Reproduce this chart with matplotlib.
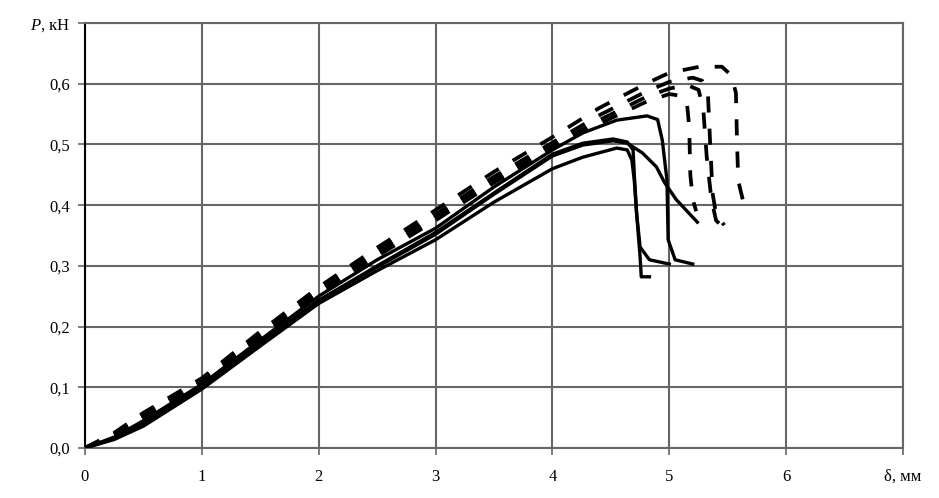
import matplotlib
matplotlib.use("Agg")
import matplotlib.pyplot as plt

plt.rcParams["font.family"] = ["Liberation Serif", "DejaVu Serif"]
plt.rcParams["mathtext.fontset"] = "custom"
plt.rcParams["mathtext.it"] = "Liberation Serif:italic"
plt.rcParams["mathtext.rm"] = "Liberation Serif"

# прогиб δ, мм / нагрузка P, кН — сплошные кривые
rise_x = [0, 0.25, 0.5, 1, 1.5, 2, 2.5, 3, 3.5, 4]

a_x = rise_x + [4.26, 4.55, 4.81, 4.9, 4.94, 4.98, 4.99, 5.05, 5.2]
a_y = [0, 0.018, 0.045, 0.105, 0.178, 0.25, 0.31, 0.362, 0.43, 0.491,
       0.519, 0.54, 0.547, 0.541, 0.507, 0.441, 0.343, 0.31, 0.303]

b_x = rise_x + [4.26, 4.55, 4.64, 4.68, 4.70, 4.72, 4.75, 4.76, 4.83]
b_y = [0, 0.014, 0.036, 0.097, 0.168, 0.238, 0.292, 0.343, 0.405, 0.46,
       0.479, 0.494, 0.491, 0.474, 0.441, 0.387, 0.315, 0.282, 0.282]

c_x = rise_x + [4.26, 4.52, 4.64, 4.69, 4.70, 4.72, 4.75, 4.83, 5.0]
c_y = [0, 0.016, 0.04, 0.1, 0.172, 0.243, 0.3, 0.355, 0.42, 0.484,
       0.502, 0.509, 0.504, 0.491, 0.453, 0.387, 0.331, 0.31, 0.303]

d_x = rise_x + [4.26, 4.52, 4.64, 4.77, 4.89, 4.96, 5.06, 5.24]
d_y = [0, 0.016, 0.04, 0.1, 0.172, 0.243, 0.298, 0.352, 0.418, 0.481,
       0.499, 0.506, 0.502, 0.486, 0.463, 0.437, 0.409, 0.372]

# штриховые кривые
e_x = rise_x + [4.4, 4.81, 5.0, 5.26, 5.45, 5.53, 5.57, 5.58, 5.59, 5.63, 5.71]
e_y = [0, 0.025, 0.058, 0.115, 0.192, 0.265, 0.33, 0.392, 0.455, 0.512,
       0.56, 0.601, 0.618, 0.628, 0.628, 0.614, 0.585, 0.5, 0.44, 0.408, 0.395]

f_x = rise_x + [4.4, 4.8, 5.0, 5.2, 5.28, 5.33, 5.35, 5.37, 5.4, 5.47]
f_y = [0, 0.024, 0.055, 0.112, 0.188, 0.26, 0.325, 0.385, 0.447, 0.503,
       0.548, 0.587, 0.603, 0.61, 0.605, 0.585, 0.5, 0.42, 0.385, 0.367]

g_x = rise_x + [4.4, 4.8, 5.0, 5.15, 5.25, 5.29, 5.32, 5.36, 5.4, 5.45]
g_y = [0, 0.022, 0.052, 0.11, 0.185, 0.256, 0.32, 0.38, 0.442, 0.498,
       0.54, 0.578, 0.592, 0.598, 0.59, 0.56, 0.48, 0.41, 0.375, 0.365]

h_x = rise_x + [4.4, 4.8, 5.0, 5.1, 5.15, 5.17, 5.18, 5.2, 5.23]
h_y = [0, 0.021, 0.05, 0.108, 0.182, 0.252, 0.316, 0.375, 0.437, 0.494,
       0.534, 0.57, 0.583, 0.58, 0.57, 0.53, 0.45, 0.41, 0.39]

x_ticks = [0, 1, 2, 3, 4, 5, 6, 7]
x_labels = ["0", "1", "2", "3", "4", "5", "6", "δ, мм"]
y_ticks = [0.0, 0.1, 0.2, 0.3, 0.4, 0.5, 0.6, 0.7]
y_labels = ["0,0", "0,1", "0,2", "0,3", "0,4", "0,5", "0,6", "$P$, кН"]

fig = plt.figure(figsize=(9.39, 4.98), dpi=100)
ax = fig.add_axes([0.0905, 0.1004, 0.8712, 0.8534])

for xs, ys in [(a_x, a_y), (b_x, b_y), (c_x, c_y), (d_x, d_y)]:
    ax.plot(xs, ys, color="black", linewidth=2.4, solid_joinstyle="round", zorder=3)

for xs, ys in [(e_x, e_y), (f_x, f_y), (g_x, g_y), (h_x, h_y)]:
    ax.plot(xs, ys, color="black", linewidth=2.7, dashes=(4.3, 4.3), zorder=3)

ax.set_xlim(0, 7)
ax.set_ylim(0, 0.7)
ax.set_xticks(x_ticks)
ax.set_xticklabels(x_labels)
ax.set_yticks(y_ticks)
ax.set_yticklabels(y_labels)
ax.grid(True, color="#666666", linewidth=1.5)
ax.set_axisbelow(True)
for side in ["top", "right", "bottom"]:
    ax.spines[side].set_color("#666666")
    ax.spines[side].set_linewidth(1.5)
ax.spines["left"].set_color("black")
ax.spines["left"].set_linewidth(1.5)
ax.tick_params(axis="both", length=5, width=1.2, color="#666666", labelsize=12, pad=6)
ax.tick_params(axis="x", pad=10)

plt.savefig("out.png", dpi=100)
plt.close()
